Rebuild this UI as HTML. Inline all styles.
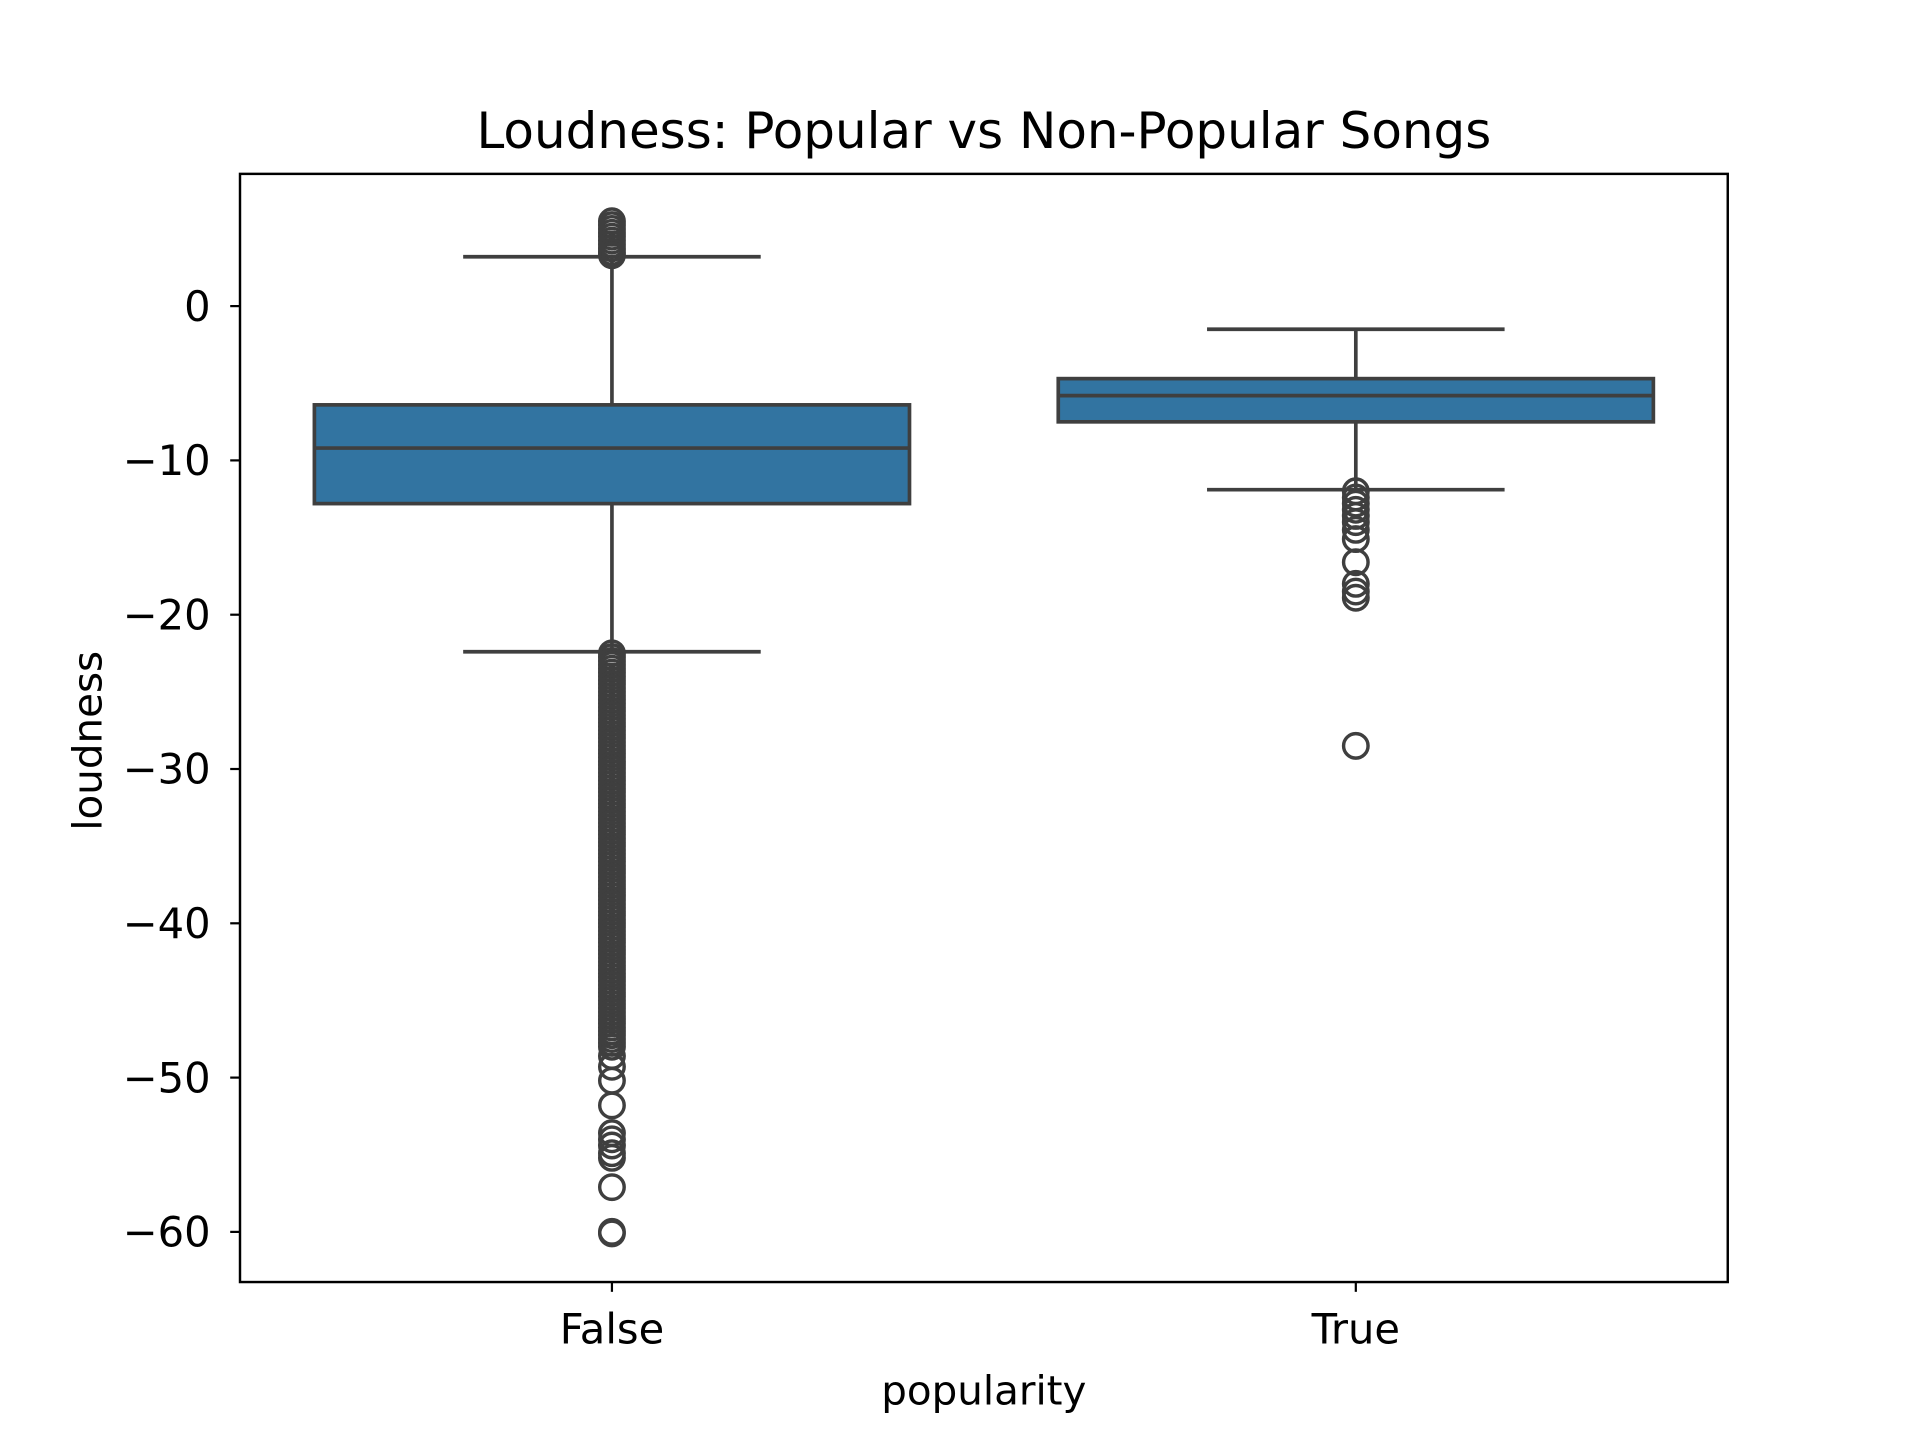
<!DOCTYPE html>
<html><head><meta charset="utf-8"><style>html,body{margin:0;padding:0;background:#fff}svg{display:block}text{font-family:"DejaVu Sans","Liberation Sans",sans-serif;fill:#000}</style></head>
<body>
<svg id="chart" width="1920" height="1440" viewBox="0 0 1568 1176" xmlns="http://www.w3.org/2000/svg">
<rect x="0" y="0" width="1568" height="1176" fill="#fff"/>
<text x="803.5" y="121" font-size="40.8" text-anchor="middle">Loudness: Popular vs Non-Popular Songs</text>
<g id="plot"></g>
<text x="803.5" y="1147" font-size="33" text-anchor="middle">popularity</text>
<text transform="translate(83,605) rotate(-90)" font-size="33" text-anchor="middle">loudness</text>
</svg>
<script>
const categories = ["False", "True"];
const q1 = [-12.8, -7.5];
const medians = [-9.2, -5.8];
const q3 = [-6.4, -4.7];
const whiskerLow = [-22.4, -11.9];
const whiskerHigh = [3.2, -1.5];
const outliersFalse = [5.5,5.25,5.0,4.75,4.5,4.25,4.0,3.75,3.5,3.3,
 -22.5,-22.75,-23,-23.25,-23.5,-23.75,-24,-24.25,-24.5,-24.75,-25,-25.25,-25.5,-25.75,-26,-26.25,-26.5,-26.75,-27,-27.25,-27.5,-27.75,-28,-28.25,-28.5,-28.75,-29,-29.25,-29.5,-29.75,
 -30,-30.25,-30.5,-30.75,-31,-31.25,-31.5,-31.75,-32,-32.25,-32.5,-32.75,-33,-33.25,-33.5,-33.75,-34,-34.25,-34.5,-34.75,-35,-35.25,-35.5,-35.75,-36,-36.25,-36.5,-36.75,-37,-37.25,-37.5,-37.75,
 -38,-38.25,-38.5,-38.75,-39,-39.25,-39.5,-39.75,-40,-40.25,-40.5,-40.75,-41,-41.25,-41.5,-41.75,-42,-42.25,-42.5,-42.75,-43,-43.25,-43.5,-43.75,-44,-44.25,-44.5,-44.75,-45,-45.25,-45.5,-45.75,
 -46,-46.25,-46.5,-46.75,-47,-47.25,-47.5,-47.75,-48,
 -48.6,-49.3,-50.2,-51.8,-53.6,-54,-54.4,-54.9,-55.2,-57.1,-60,-60.1];
const outliersTrue = [-12,-12.4,-12.8,-13.2,-13.6,-14,-14.5,-15.1,-16.6,-18,-18.5,-18.9,-28.5];
const yTicks = [0,-10,-20,-30,-40,-50,-60];

const L=196,R=1411,T=142,B=1047;
const yMin=-63.25,yMax=8.57;
const y=v=>T+(yMax-v)/(yMax-yMin)*(B-T);
const band=(R-L)/categories.length;
const x=i=>L+band*(i+0.5);
const boxW=band*0.8;
const NS="http://www.w3.org/2000/svg";
const g=document.getElementById('plot');
function mk(tag,attrs){const e=document.createElementNS(NS,tag);for(const k in attrs)e.setAttribute(k,attrs[k]);g.appendChild(e);return e;}
const C="#3f3f3f",SW=3;
categories.forEach((c,i)=>{
  const cx=x(i);
  let e=mk('line',{x1:cx,x2:cx,y1:y(whiskerHigh[i]),y2:y(q3[i]),stroke:C,'stroke-width':SW});
  
  
  e=mk('line',{x1:cx,x2:cx,y1:y(q1[i]),y2:y(whiskerLow[i]),stroke:C,'stroke-width':SW});
  
  
  e=mk('line',{x1:cx-boxW/4,x2:cx+boxW/4,y1:y(whiskerHigh[i]),y2:y(whiskerHigh[i]),stroke:C,'stroke-width':SW});
  
  
  e=mk('line',{x1:cx-boxW/4,x2:cx+boxW/4,y1:y(whiskerLow[i]),y2:y(whiskerLow[i]),stroke:C,'stroke-width':SW});
  
  
  e=mk('rect',{x:cx-boxW/2,y:y(q3[i]),width:boxW,height:y(q1[i])-y(q3[i]),fill:'#3274a1',stroke:C,'stroke-width':SW});
  
  
  e=mk('line',{x1:cx-boxW/2,x2:cx+boxW/2,y1:y(medians[i]),y2:y(medians[i]),stroke:C,'stroke-width':SW});
  
  
  const outs=i===0?outliersFalse:outliersTrue;
  outs.forEach(v=>{
    const o=mk('circle',{cx:cx,cy:y(v),r:10,fill:'none',stroke:C,'stroke-width':2.8});
    
    
  });
  const t=mk('line',{x1:cx,x2:cx,y1:B,y2:B+8,stroke:'#000','stroke-width':1.8});
  
  
  const lb=mk('text',{x:cx,y:B+50,'font-size':34,'text-anchor':'middle'});
  lb.textContent=c;
  
  
});
yTicks.forEach(v=>{
  const t=mk('line',{x1:L-8,x2:L,y1:y(v),y2:y(v),stroke:'#000','stroke-width':1.8});
  
  
  const lb=mk('text',{x:L-24,y:y(v)+12,'font-size':34,'text-anchor':'end'});
  lb.textContent=v<0?'\u2212'+Math.abs(v):String(v);
  
  
});
const fr=mk('rect',{x:L,y:T,width:R-L,height:B-T,fill:'none',stroke:'#000','stroke-width':2});


</script>
</body></html>
